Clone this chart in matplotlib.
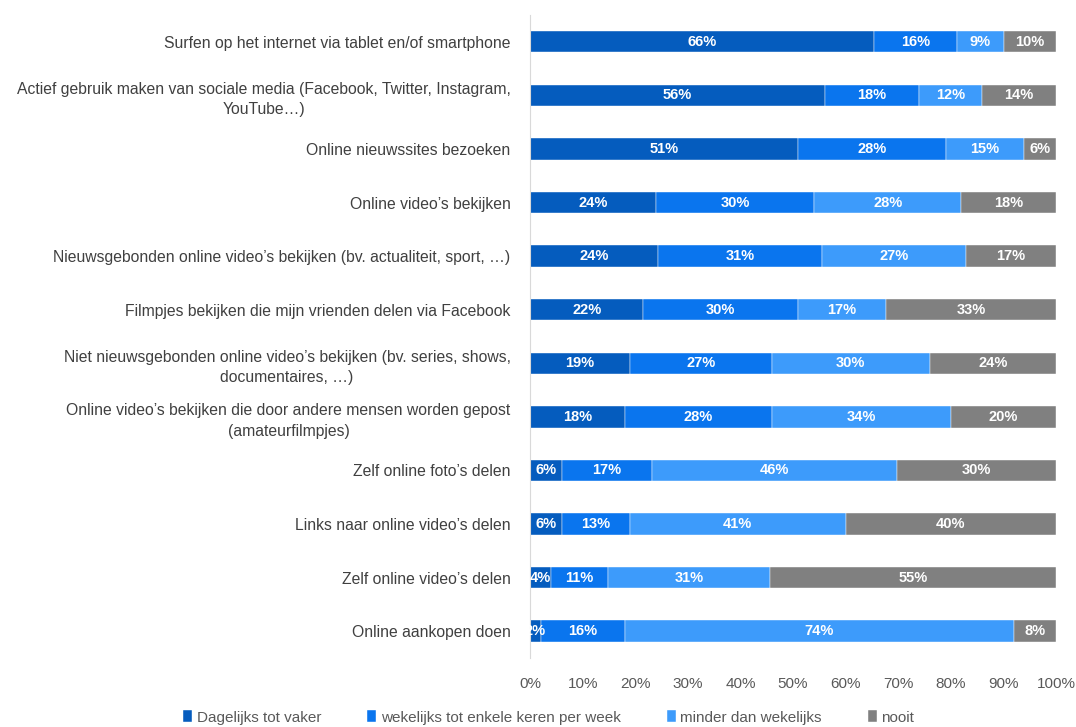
import matplotlib
matplotlib.use("Agg")
import matplotlib.pyplot as plt
import numpy as np
from matplotlib.ticker import PercentFormatter

plt.rcParams['font.family'] = ['Liberation Sans', 'DejaVu Sans']

categories = [
    "Surfen op het internet via tablet en/of smartphone",
    "Actief gebruik maken van sociale media (Facebook, Twitter, Instagram,\nYouTube…)",
    "Online nieuwssites bezoeken",
    "Online video’s bekijken",
    "Nieuwsgebonden online video’s bekijken (bv. actualiteit, sport, …)",
    "Filmpjes bekijken die mijn vrienden delen via Facebook",
    "Niet nieuwsgebonden online video’s bekijken (bv. series, shows,\ndocumentaires, …)",
    "Online video’s bekijken die door andere mensen worden gepost\n(amateurfilmpjes)",
    "Zelf online foto’s delen",
    "Links naar online video’s delen",
    "Zelf online video’s delen",
    "Online aankopen doen",
]

dagelijks = [66, 56, 51, 24, 24, 22, 19, 18, 6, 6, 4, 2]
wekelijks = [16, 18, 28, 30, 31, 30, 27, 28, 17, 13, 11, 16]
minder = [9, 12, 15, 28, 27, 17, 30, 34, 46, 41, 31, 74]
nooit = [10, 14, 6, 18, 17, 33, 24, 20, 30, 40, 55, 8]

series_names = ["Dagelijks tot vaker", "wekelijks tot enkele keren per week",
                "minder dan wekelijks", "nooit"]
colors = ["#055cbe", "#0a75ee", "#3d9bfb", "#808080"]

data = np.array([dagelijks, wekelijks, minder, nooit], dtype=float)
# bars are drawn as shares of 100%
shares = data / data.sum(axis=0) * 100

fig = plt.figure(figsize=(10.76, 7.27), dpi=100)
ax = fig.add_axes([0.4926, 0.0949, 0.4888, 0.8845])

y = np.arange(len(categories))
left = np.zeros(len(categories))
for vals, share, name, col in zip(data, shares, series_names, colors):
    ax.barh(y, share, left=left, height=0.4, color=col, label=name,
            edgecolor="white", linewidth=0.3)
    for yi, l, s, v in zip(y, left, share, vals):
        ax.text(l + s / 2, yi, "%d%%" % v, ha="center", va="center",
                color="white", fontsize=10.5, fontweight="bold")
    left += share

ax.set_ylim(len(categories) - 0.5, -0.5)
ax.set_xlim(0, 100)
ax.set_xticks(np.arange(0, 101, 10))
ax.xaxis.set_major_formatter(PercentFormatter(decimals=0))
ax.set_yticks(y)
ax.set_yticklabels(categories)
for t in ax.get_yticklabels():
    t.set_multialignment("center")
    t.set_linespacing(1.45)
ax.tick_params(axis="y", length=0, pad=14, labelsize=11.3, labelcolor="#404040")
ax.tick_params(axis="x", length=0, pad=14, labelsize=11, labelcolor="#595959")

for side in ["top", "right", "bottom"]:
    ax.spines[side].set_visible(False)
ax.spines["left"].set_color("#d9d9d9")

fig.legend(*ax.get_legend_handles_labels(), loc="center",
           bbox_to_anchor=(0.51, 0.013), ncol=4,
           frameon=False, fontsize=11, handlelength=0.6, handleheight=0.8,
           handletextpad=0.3, columnspacing=3.0, labelcolor="#595959")

fig.savefig("out.png", dpi=100)
